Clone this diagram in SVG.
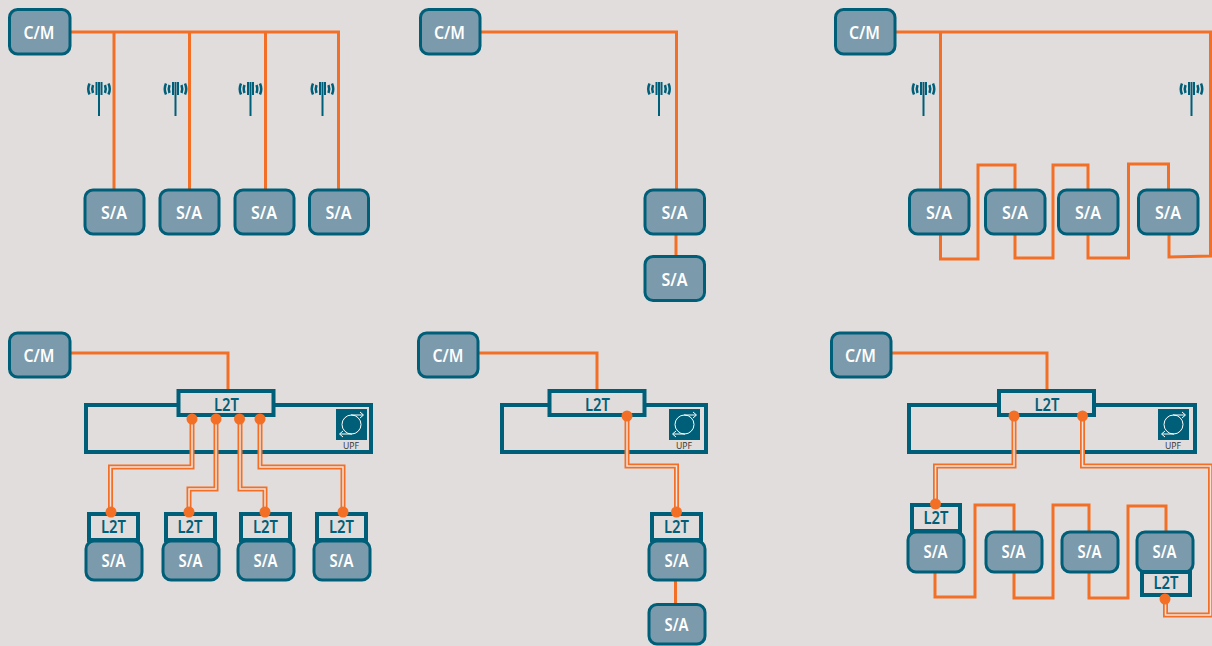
<svg xmlns="http://www.w3.org/2000/svg" width="1212" height="646" viewBox="0 0 1212 646">
<style>
.n{fill:#7b9aac;stroke:#005f78;stroke-width:3}
.l{fill:#e0dcdc;stroke:#005f78;stroke-width:4}
.f{fill:none;stroke:#005f78;stroke-width:4}
.t{font-family:"Noto Sans","Open Sans",sans-serif;font-weight:600;font-size:18px;text-anchor:middle;fill:#fff}
.s{font-size:17px}
.tl{fill:#005f78;font-size:17px}
.c{fill:none;stroke:#f36f26;stroke-width:3}
.d1{fill:none;stroke:#f36f26;stroke-width:5}
.d2{fill:none;stroke:#eee3dd;stroke-width:1.5}
.dot{fill:#f36f26}
.a{fill:none;stroke:#005f78;stroke-width:2.500}
.m{fill:none;stroke:#005f78;stroke-width:2}
.u{font-family:"Noto Sans","Open Sans",sans-serif;font-weight:400;font-size:9.500px;text-anchor:middle;fill:#3a3a3a}
</style>
<defs>
<symbol id="ant" overflow="visible">
<path class="m" d="M0 -6V28M-2.500 -6V7M2.500 -6V7"/>
<path class="a" d="M-6 -3Q-7.500 1 -6 5M6 -3Q7.500 1 6 5M-9.500 -4.500Q-12 1 -9.500 6.500M9.500 -4.500Q12 1 9.500 6.500"/>
</symbol>
<g id="upf">
<rect width="31" height="31" fill="#005f78"/>
<circle cx="15.500" cy="15.500" r="9.500" fill="none" stroke="#fff" stroke-width="1"/>
<path d="M15 6H27M24 3L27.500 6L24 9M16 25H4M7 22L3.500 25L7 28" fill="none" stroke="#fff" stroke-width="1"/>
</g>
</defs>
<rect width="1212" height="646" fill="#e1dddc"/>
<g id="connectors">
<path class="c" d="M71 32H338.500V189M114 32V189M189.500 32V189M265.500 32V189"/>
<path class="c" d="M481 32H676.500V189M676 235V255"/>
<path class="c" d="M896 32H1210.500V256L1169 257V235M940.500 32V189M940.500 235V259H978V165H1015V189M1015 235V258H1053V165H1088V189M1088 235V258H1128.500V164H1168.500V189"/>
<path class="c" d="M71 353H228V391M479 353H597V391M892 353H1047V391"/>
<path class="c" d="M675.500 581V603"/>
<path class="c" d="M935 573V597H975V505H1014V531M1014 573V598H1053V505H1089V531M1089 573V598H1128V506H1166V531"/>
</g>
<g id="frames">
<rect class="f" x="86" y="405" width="285" height="47"/>
<rect class="f" x="502" y="405" width="204" height="47"/>
<rect class="f" x="909" y="405" width="286" height="47"/>
</g>
<g id="double-connectors">
<path class="d1" d="M192 419V467H110.500V512M216 419V489H189V512M240 419V489H265V512M260 419V467H343V512"/>
<path class="d2" d="M192 419V467H110.500V512M216 419V489H189V512M240 419V489H265V512M260 419V467H343V512"/>
<path class="d1" d="M627 416V466H676.500V512"/>
<path class="d2" d="M627 416V466H676.500V512"/>
<path class="d1" d="M1014 416V466H935.500V504M1082.500 416V466H1210.500V615H1165.500V599"/>
<path class="d2" d="M1014 416V466H935.500V504M1082.500 416V466H1210.500V615H1165.500V599"/>
</g>
<g id="antennas">
<use href="#ant" x="99" y="88"/><use href="#ant" x="175.500" y="88"/><use href="#ant" x="250.500" y="88"/><use href="#ant" x="322.500" y="88"/>
<use href="#ant" x="659" y="88"/><use href="#ant" x="923.500" y="88"/><use href="#ant" x="1191.500" y="88"/>
</g>
<g id="cm1"><rect class="n" x="9.500" y="9.500" width="60.500" height="44.500" rx="8"/><text class="t" textLength="31" lengthAdjust="spacingAndGlyphs" x="39" y="39">C/M</text></g>
<g id="cm2"><rect class="n" x="420.500" y="9.500" width="59.500" height="44.500" rx="8"/><text class="t" textLength="31" lengthAdjust="spacingAndGlyphs" x="449.500" y="39">C/M</text></g>
<g id="cm3"><rect class="n" x="835.500" y="9.500" width="59.500" height="44.500" rx="8"/><text class="t" textLength="31" lengthAdjust="spacingAndGlyphs" x="864.500" y="39">C/M</text></g>
<g id="sa1"><rect class="n" x="85" y="190" width="59" height="44" rx="8"/><text class="t" textLength="26" lengthAdjust="spacingAndGlyphs" x="114" y="218.500">S/A</text></g>
<g id="sa2"><rect class="n" x="160" y="190" width="59" height="44" rx="8"/><text class="t" textLength="26" lengthAdjust="spacingAndGlyphs" x="189" y="218.500">S/A</text></g>
<g id="sa3"><rect class="n" x="235" y="190" width="59" height="44" rx="8"/><text class="t" textLength="26" lengthAdjust="spacingAndGlyphs" x="264" y="218.500">S/A</text></g>
<g id="sa4"><rect class="n" x="309.500" y="190" width="59" height="44" rx="8"/><text class="t" textLength="26" lengthAdjust="spacingAndGlyphs" x="338.500" y="218.500">S/A</text></g>
<g id="sa5"><rect class="n" x="645" y="190" width="59.500" height="44" rx="8"/><text class="t" textLength="26" lengthAdjust="spacingAndGlyphs" x="674.500" y="218.500">S/A</text></g>
<g id="sa6"><rect class="n" x="645" y="256.500" width="59.500" height="44" rx="8"/><text class="t" textLength="26" lengthAdjust="spacingAndGlyphs" x="674.500" y="285.500">S/A</text></g>
<g id="sa7"><rect class="n" x="909.500" y="190" width="59.500" height="44" rx="8"/><text class="t" textLength="26" lengthAdjust="spacingAndGlyphs" x="939" y="218.500">S/A</text></g>
<g id="sa8"><rect class="n" x="985.500" y="190" width="59.500" height="44" rx="8"/><text class="t" textLength="26" lengthAdjust="spacingAndGlyphs" x="1015" y="218.500">S/A</text></g>
<g id="sa9"><rect class="n" x="1058.500" y="190" width="59.500" height="44" rx="8"/><text class="t" textLength="26" lengthAdjust="spacingAndGlyphs" x="1088" y="218.500">S/A</text></g>
<g id="sa10"><rect class="n" x="1138.500" y="190" width="59.500" height="44" rx="8"/><text class="t" textLength="26" lengthAdjust="spacingAndGlyphs" x="1168" y="218.500">S/A</text></g>
<g id="cm4"><rect class="n" x="9.500" y="333" width="60.500" height="44" rx="8"/><text class="t" textLength="31" lengthAdjust="spacingAndGlyphs" x="39" y="362">C/M</text></g>
<g id="cm5"><rect class="n" x="418.500" y="333" width="59.500" height="44" rx="8"/><text class="t" textLength="31" lengthAdjust="spacingAndGlyphs" x="448" y="362">C/M</text></g>
<g id="cm6"><rect class="n" x="831.500" y="333" width="59.500" height="44" rx="8"/><text class="t" textLength="31" lengthAdjust="spacingAndGlyphs" x="860.500" y="362">C/M</text></g>
<g id="l2t-main1"><rect class="l" x="178.500" y="391" width="95" height="24"/><text class="t tl" textLength="25" lengthAdjust="spacingAndGlyphs" x="226.500" y="410.500">L2T</text></g>
<g id="l2t-main2"><rect class="l" x="549.500" y="391" width="95" height="24"/><text class="t tl" textLength="25" lengthAdjust="spacingAndGlyphs" x="597.500" y="410.500">L2T</text></g>
<g id="l2t-main3"><rect class="l" x="999" y="391" width="95" height="24"/><text class="t tl" textLength="25" lengthAdjust="spacingAndGlyphs" x="1047" y="410.500">L2T</text></g>
<g id="upf1"><use href="#upf" x="336" y="409"/><text class="u" textLength="16" lengthAdjust="spacingAndGlyphs" x="351" y="448.500">UPF</text></g>
<g id="upf2"><use href="#upf" x="669" y="409"/><text class="u" textLength="16" lengthAdjust="spacingAndGlyphs" x="684" y="448.500">UPF</text></g>
<g id="upf3"><use href="#upf" x="1158" y="409"/><text class="u" textLength="16" lengthAdjust="spacingAndGlyphs" x="1173" y="448.500">UPF</text></g>
<g id="n11"><rect class="l" x="89" y="514" width="49" height="26"/><text class="t tl" textLength="25" lengthAdjust="spacingAndGlyphs" x="113.500" y="533">L2T</text><rect class="n" x="86" y="541" width="56" height="39" rx="8"/><text class="t s" textLength="24" lengthAdjust="spacingAndGlyphs" x="113.500" y="567">S/A</text></g>
<g id="n12"><rect class="l" x="166" y="514" width="49" height="26"/><text class="t tl" textLength="25" lengthAdjust="spacingAndGlyphs" x="190" y="533">L2T</text><rect class="n" x="163" y="541" width="56" height="39" rx="8"/><text class="t s" textLength="24" lengthAdjust="spacingAndGlyphs" x="190.500" y="567">S/A</text></g>
<g id="n13"><rect class="l" x="241" y="514" width="49" height="26"/><text class="t tl" textLength="25" lengthAdjust="spacingAndGlyphs" x="265.500" y="533">L2T</text><rect class="n" x="238" y="541" width="56" height="39" rx="8"/><text class="t s" textLength="24" lengthAdjust="spacingAndGlyphs" x="265.500" y="567">S/A</text></g>
<g id="n14"><rect class="l" x="317" y="514" width="49" height="26"/><text class="t tl" textLength="25" lengthAdjust="spacingAndGlyphs" x="341.500" y="533">L2T</text><rect class="n" x="314" y="541" width="56" height="39" rx="8"/><text class="t s" textLength="24" lengthAdjust="spacingAndGlyphs" x="341.500" y="567">S/A</text></g>
<g id="n21"><rect class="l" x="652" y="514" width="49" height="26"/><text class="t tl" textLength="25" lengthAdjust="spacingAndGlyphs" x="676.500" y="533">L2T</text><rect class="n" x="649" y="541" width="56" height="39" rx="8"/><text class="t s" textLength="24" lengthAdjust="spacingAndGlyphs" x="676.500" y="567">S/A</text></g>
<g id="n22"><rect class="n" x="649" y="604.500" width="56" height="39.500" rx="8"/><text class="t s" textLength="24" lengthAdjust="spacingAndGlyphs" x="676.500" y="631">S/A</text></g>
<g id="n31"><rect class="l" x="912" y="505" width="48" height="26"/><text class="t tl" textLength="25" lengthAdjust="spacingAndGlyphs" x="936" y="524">L2T</text><rect class="n" x="908" y="532" width="56" height="40" rx="8"/><text class="t s" textLength="24" lengthAdjust="spacingAndGlyphs" x="935.500" y="558">S/A</text></g>
<g id="n32"><rect class="n" x="986" y="532" width="56" height="40" rx="8"/><text class="t s" textLength="24" lengthAdjust="spacingAndGlyphs" x="1013.500" y="558">S/A</text></g>
<g id="n33"><rect class="n" x="1062" y="532" width="56" height="40" rx="8"/><text class="t s" textLength="24" lengthAdjust="spacingAndGlyphs" x="1089.500" y="558">S/A</text></g>
<g id="n34"><rect class="n" x="1137" y="532" width="56" height="40" rx="8"/><text class="t s" textLength="24" lengthAdjust="spacingAndGlyphs" x="1164.500" y="558">S/A</text><rect class="l" x="1142" y="572" width="48" height="23"/><text class="t tl" textLength="25" lengthAdjust="spacingAndGlyphs" x="1166" y="589">L2T</text></g>
<g id="dots">
<circle class="dot" cx="192" cy="419" r="5.500"/><circle class="dot" cx="216" cy="419" r="5.500"/><circle class="dot" cx="239.500" cy="419" r="5.500"/><circle class="dot" cx="260" cy="419" r="5.500"/>
<circle class="dot" cx="111" cy="512" r="5.500"/><circle class="dot" cx="189" cy="512" r="5.500"/><circle class="dot" cx="265" cy="512" r="5.500"/><circle class="dot" cx="343" cy="512" r="5.500"/>
<circle class="dot" cx="627" cy="416" r="5.500"/><circle class="dot" cx="676.500" cy="512" r="5.500"/>
<circle class="dot" cx="1014" cy="416" r="5.500"/><circle class="dot" cx="1082.500" cy="416" r="5.500"/><circle class="dot" cx="935.500" cy="504" r="5.500"/><circle class="dot" cx="1165" cy="599" r="5.500"/>
</g>
</svg>
